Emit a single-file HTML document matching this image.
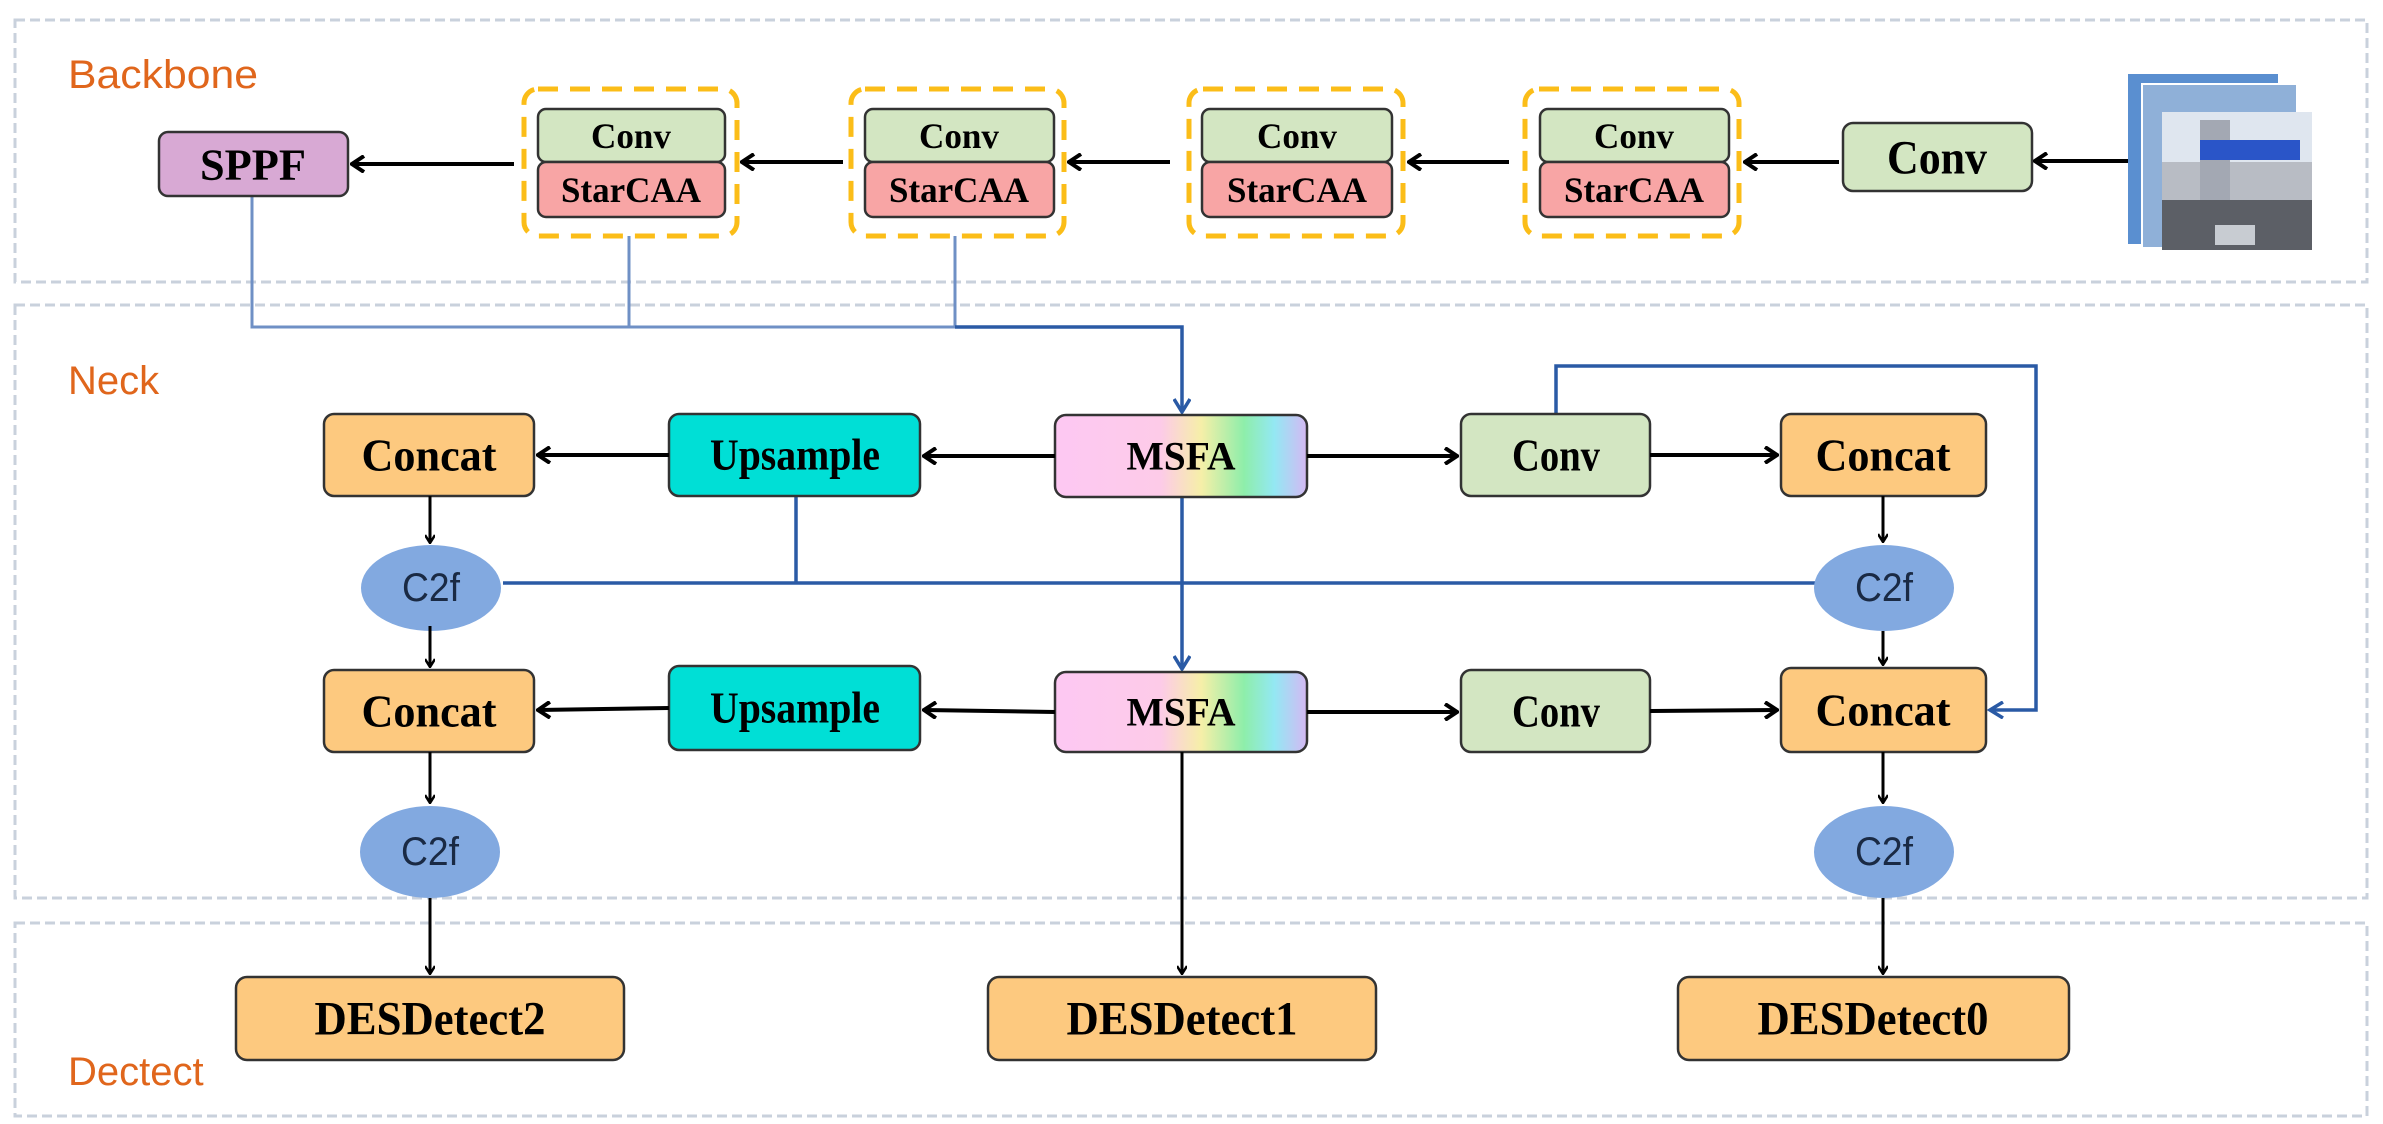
<!DOCTYPE html>
<html><head><meta charset="utf-8"><style>
html,body{margin:0;padding:0;background:#fff;}
svg{display:block;}
.t{font-family:"Liberation Serif",serif;font-weight:bold;fill:#000;text-anchor:middle;dominant-baseline:central;}
.lbl{font-family:"Liberation Sans",sans-serif;fill:#e0661c;font-size:40px;}
.c2f{font-family:"Liberation Sans",sans-serif;fill:#1a2a44;font-size:40px;text-anchor:middle;dominant-baseline:central;}
</style></head><body>
<svg width="2383" height="1124" viewBox="0 0 2383 1124" xmlns="http://www.w3.org/2000/svg">
<defs>
<marker id="ab" markerWidth="10" markerHeight="10" refX="8" refY="5" orient="auto" markerUnits="userSpaceOnUse" viewBox="0 0 10 10"><path d="M1,0 L9,5 L1,10" fill="none" stroke="#000" stroke-width="2.5"/></marker>
<marker id="abig" markerWidth="16" markerHeight="18" refX="14" refY="9" orient="auto" markerUnits="userSpaceOnUse"><path d="M2,1 L14,9 L2,17" fill="none" stroke="#000" stroke-width="4"/></marker>
<marker id="bb" markerWidth="18" markerHeight="18" refX="15" refY="9" orient="auto" markerUnits="userSpaceOnUse"><path d="M2,1 L15,9 L2,17" fill="none" stroke="#2a5aa5" stroke-width="3.5"/></marker>
<linearGradient id="rb" x1="0" x2="1" y1="0" y2="0">
<stop offset="0" stop-color="#fdc8f3"/><stop offset="0.42" stop-color="#fdcbe8"/><stop offset="0.58" stop-color="#f6efa8"/><stop offset="0.75" stop-color="#8eeeaa"/><stop offset="0.87" stop-color="#93e8f3"/><stop offset="1" stop-color="#d5b8f3"/>
</linearGradient>
</defs>
<g fill="none" stroke="#c9d1dc" stroke-width="3" stroke-dasharray="10,5">
<rect x="15" y="20" width="2352" height="262"/>
<rect x="15" y="305" width="2352" height="593"/>
<rect x="15" y="923" width="2352" height="193"/>
</g>
<text class="lbl" x="68" y="88" textLength="190" lengthAdjust="spacingAndGlyphs">Backbone</text>
<text class="lbl" x="68" y="394">Neck</text>
<text class="lbl" x="68" y="1085">Dectect</text>

<g fill="none" stroke="#6f90c5" stroke-width="3">
<polyline points="252,196 252,327 1182,327"/>
<line x1="629" y1="236" x2="629" y2="327"/>
<line x1="955" y1="236" x2="955" y2="327"/>
</g>
<polyline points="955,327 1182,327 1182,412" fill="none" stroke="#2a5aa5" stroke-width="3.5" marker-end="url(#bb)"/>

<rect x="159" y="132" width="189" height="64" rx="9" fill="#d8a9d4" stroke="#333" stroke-width="2.5"/>
<text class="t" x="253" y="165" font-size="44" textLength="106" lengthAdjust="spacingAndGlyphs">SPPF</text>
<g>
<rect x="524" y="89" width="213" height="147" rx="14" fill="none" stroke="#fbbd18" stroke-width="5" stroke-dasharray="20,12"/>
<rect x="538" y="109" width="187" height="53" rx="8" fill="#d3e6c2" stroke="#333" stroke-width="2.5"/>
<rect x="538" y="162" width="187" height="55" rx="8" fill="#f8a5a5" stroke="#333" stroke-width="2.5"/>
<text class="t" x="631" y="136" font-size="36" textLength="80" lengthAdjust="spacingAndGlyphs">Conv</text><text class="t" x="631" y="190" font-size="36" textLength="140" lengthAdjust="spacingAndGlyphs">StarCAA</text>
</g>
<g>
<rect x="851" y="89" width="213" height="147" rx="14" fill="none" stroke="#fbbd18" stroke-width="5" stroke-dasharray="20,12"/>
<rect x="865" y="109" width="189" height="53" rx="8" fill="#d3e6c2" stroke="#333" stroke-width="2.5"/>
<rect x="865" y="162" width="189" height="55" rx="8" fill="#f8a5a5" stroke="#333" stroke-width="2.5"/>
<text class="t" x="959" y="136" font-size="36" textLength="80" lengthAdjust="spacingAndGlyphs">Conv</text><text class="t" x="959" y="190" font-size="36" textLength="140" lengthAdjust="spacingAndGlyphs">StarCAA</text>
</g>
<g>
<rect x="1189" y="89" width="214" height="147" rx="14" fill="none" stroke="#fbbd18" stroke-width="5" stroke-dasharray="20,12"/>
<rect x="1202" y="109" width="190" height="53" rx="8" fill="#d3e6c2" stroke="#333" stroke-width="2.5"/>
<rect x="1202" y="162" width="190" height="55" rx="8" fill="#f8a5a5" stroke="#333" stroke-width="2.5"/>
<text class="t" x="1297" y="136" font-size="36" textLength="80" lengthAdjust="spacingAndGlyphs">Conv</text><text class="t" x="1297" y="190" font-size="36" textLength="140" lengthAdjust="spacingAndGlyphs">StarCAA</text>
</g>
<g>
<rect x="1525" y="89" width="214" height="147" rx="14" fill="none" stroke="#fbbd18" stroke-width="5" stroke-dasharray="20,12"/>
<rect x="1540" y="109" width="189" height="53" rx="8" fill="#d3e6c2" stroke="#333" stroke-width="2.5"/>
<rect x="1540" y="162" width="189" height="55" rx="8" fill="#f8a5a5" stroke="#333" stroke-width="2.5"/>
<text class="t" x="1634" y="136" font-size="36" textLength="80" lengthAdjust="spacingAndGlyphs">Conv</text><text class="t" x="1634" y="190" font-size="36" textLength="140" lengthAdjust="spacingAndGlyphs">StarCAA</text>
</g>
<rect x="1843" y="123" width="189" height="68" rx="10" fill="#d3e6c2" stroke="#333" stroke-width="2.5"/>
<text class="t" x="1937" y="158" font-size="48" textLength="100" lengthAdjust="spacingAndGlyphs">Conv</text>
<rect x="2128" y="74" width="150" height="170" fill="#5a8fd0"/>
<rect x="2142" y="84" width="155" height="164" fill="#8fb0d8" stroke="#fff" stroke-width="2"/>
<rect x="2162" y="112" width="150" height="138" fill="#b8bcc4"/>
<rect x="2162" y="112" width="150" height="50" fill="#dfe6ef"/>
<rect x="2200" y="120" width="30" height="90" fill="#a3a8b3"/>
<rect x="2200" y="140" width="100" height="20" fill="#2a55c8"/>
<rect x="2162" y="200" width="150" height="50" fill="#5c5f66"/>
<rect x="2215" y="225" width="40" height="20" fill="#c8ccd2"/>

<g stroke="#000" stroke-width="4" fill="none">
<line x1="2128" y1="161" x2="2035" y2="161" marker-end="url(#abig)"/>
<line x1="1839" y1="162" x2="1745" y2="162" marker-end="url(#abig)"/>
<line x1="1509" y1="162" x2="1409" y2="162" marker-end="url(#abig)"/>
<line x1="1170" y1="162" x2="1069" y2="162" marker-end="url(#abig)"/>
<line x1="843" y1="162" x2="742" y2="162" marker-end="url(#abig)"/>
<line x1="514" y1="164" x2="352" y2="164" marker-end="url(#abig)"/>
</g>

<g fill="none" stroke="#2a5aa5" stroke-width="3.5">
<line x1="503" y1="583" x2="1815" y2="583"/>
<line x1="796" y1="496" x2="796" y2="583"/>
<line x1="1182" y1="497" x2="1182" y2="669" marker-end="url(#bb)"/>
<polyline points="1556,414 1556,366 2036,366 2036,710 1990,710" marker-end="url(#bb)"/>
</g>

<rect x="324" y="414" width="210" height="82" rx="10" fill="#fdc97f" stroke="#333" stroke-width="2.5"/>
<text class="t" x="429" y="455" font-size="46" textLength="135" lengthAdjust="spacingAndGlyphs">Concat</text>
<rect x="669" y="414" width="251" height="82" rx="10" fill="#00dfd6" stroke="#333" stroke-width="2.5"/>
<text class="t" x="795" y="455" font-size="44" textLength="170" lengthAdjust="spacingAndGlyphs">Upsample</text>
<rect x="1055" y="415" width="252" height="82" rx="11" fill="url(#rb)" stroke="#333" stroke-width="2.5"/>
<text class="t" x="1181" y="456" font-size="40" textLength="109" lengthAdjust="spacingAndGlyphs">MSFA</text>
<rect x="1461" y="414" width="189" height="82" rx="10" fill="#d3e6c2" stroke="#333" stroke-width="2.5"/>
<text class="t" x="1556" y="455" font-size="46" textLength="88" lengthAdjust="spacingAndGlyphs">Conv</text>
<rect x="1781" y="414" width="205" height="82" rx="10" fill="#fdc97f" stroke="#333" stroke-width="2.5"/>
<text class="t" x="1883" y="455" font-size="46" textLength="135" lengthAdjust="spacingAndGlyphs">Concat</text>

<ellipse cx="431" cy="588" rx="70" ry="43" fill="#82a9e0"/>
<text class="c2f" x="431" y="588" textLength="58" lengthAdjust="spacingAndGlyphs">C2f</text>
<ellipse cx="1884" cy="588" rx="70" ry="43" fill="#82a9e0"/>
<text class="c2f" x="1884" y="588" textLength="58" lengthAdjust="spacingAndGlyphs">C2f</text>

<rect x="324" y="670" width="210" height="82" rx="10" fill="#fdc97f" stroke="#333" stroke-width="2.5"/>
<text class="t" x="429" y="711" font-size="46" textLength="135" lengthAdjust="spacingAndGlyphs">Concat</text>
<rect x="669" y="666" width="251" height="84" rx="10" fill="#00dfd6" stroke="#333" stroke-width="2.5"/>
<text class="t" x="795" y="708" font-size="44" textLength="170" lengthAdjust="spacingAndGlyphs">Upsample</text>
<rect x="1055" y="672" width="252" height="80" rx="11" fill="url(#rb)" stroke="#333" stroke-width="2.5"/>
<text class="t" x="1181" y="712" font-size="40" textLength="109" lengthAdjust="spacingAndGlyphs">MSFA</text>
<rect x="1461" y="670" width="189" height="82" rx="10" fill="#d3e6c2" stroke="#333" stroke-width="2.5"/>
<text class="t" x="1556" y="711" font-size="46" textLength="88" lengthAdjust="spacingAndGlyphs">Conv</text>
<rect x="1781" y="668" width="205" height="84" rx="10" fill="#fdc97f" stroke="#333" stroke-width="2.5"/>
<text class="t" x="1883" y="710" font-size="46" textLength="135" lengthAdjust="spacingAndGlyphs">Concat</text>

<ellipse cx="430" cy="852" rx="70" ry="46" fill="#82a9e0"/>
<text class="c2f" x="430" y="852" textLength="58" lengthAdjust="spacingAndGlyphs">C2f</text>
<ellipse cx="1884" cy="852" rx="70" ry="46" fill="#82a9e0"/>
<text class="c2f" x="1884" y="852" textLength="58" lengthAdjust="spacingAndGlyphs">C2f</text>

<rect x="236" y="977" width="388" height="83" rx="11" fill="#fdc97f" stroke="#333" stroke-width="2.5"/>
<text class="t" x="430" y="1019" font-size="48" textLength="231" lengthAdjust="spacingAndGlyphs">DESDetect2</text>
<rect x="988" y="977" width="388" height="83" rx="11" fill="#fdc97f" stroke="#333" stroke-width="2.5"/>
<text class="t" x="1182" y="1019" font-size="48" textLength="231" lengthAdjust="spacingAndGlyphs">DESDetect1</text>
<rect x="1678" y="977" width="391" height="83" rx="11" fill="#fdc97f" stroke="#333" stroke-width="2.5"/>
<text class="t" x="1873" y="1019" font-size="48" textLength="231" lengthAdjust="spacingAndGlyphs">DESDetect0</text>

<g stroke="#000" stroke-width="4" fill="none">
<line x1="1055" y1="456" x2="924" y2="456" marker-end="url(#abig)"/>
<line x1="669" y1="455" x2="538" y2="455" marker-end="url(#abig)"/>
<line x1="1307" y1="456" x2="1457" y2="456" marker-end="url(#abig)"/>
<line x1="1650" y1="455" x2="1777" y2="455" marker-end="url(#abig)"/>
<line x1="1055" y1="712" x2="924" y2="710" marker-end="url(#abig)"/>
<line x1="669" y1="708" x2="538" y2="710" marker-end="url(#abig)"/>
<line x1="1307" y1="712" x2="1457" y2="712" marker-end="url(#abig)"/>
<line x1="1650" y1="711" x2="1777" y2="710" marker-end="url(#abig)"/>
</g>
<g stroke="#000" stroke-width="3" fill="none">
<line x1="430" y1="496" x2="430" y2="542" marker-end="url(#ab)"/>
<line x1="430" y1="626" x2="430" y2="666" marker-end="url(#ab)"/>
<line x1="430" y1="752" x2="430" y2="802" marker-end="url(#ab)"/>
<line x1="430" y1="898" x2="430" y2="973" marker-end="url(#ab)"/>
<line x1="1883" y1="496" x2="1883" y2="541" marker-end="url(#ab)"/>
<line x1="1883" y1="631" x2="1883" y2="664" marker-end="url(#ab)"/>
<line x1="1883" y1="752" x2="1883" y2="802" marker-end="url(#ab)"/>
<line x1="1883" y1="898" x2="1883" y2="973" marker-end="url(#ab)"/>
<line x1="1182" y1="752" x2="1182" y2="973" marker-end="url(#ab)"/>
</g>
</svg>
</body></html>
